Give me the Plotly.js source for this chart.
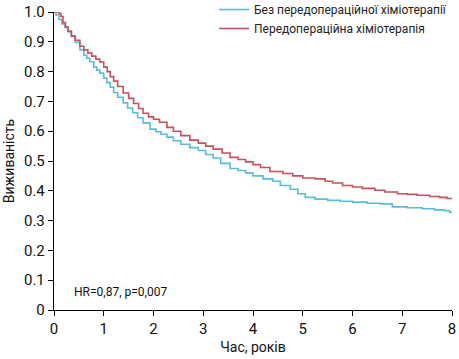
<!DOCTYPE html>
<html>
<head>
<meta charset="utf-8">
<script src="https://cdn.plot.ly/plotly-3.0.1.min.js"></script>
<style>html,body{margin:0;padding:0;background:#fff;}#chart{width:459px;height:359px;}</style>
</head>
<body>
<div id="chart"></div>
<script>
// Передопераційна хіміотерапія (red)
const redTime = [0, 0.1, 0.14, 0.18, 0.23, 0.28, 0.35, 0.42, 0.52, 0.6, 0.68, 0.76, 0.84, 0.92, 1.0, 1.07, 1.13, 1.2, 1.28, 1.39, 1.5, 1.6, 1.7, 1.79, 1.9, 2.0, 2.12, 2.27, 2.4, 2.55, 2.73, 2.9, 3.05, 3.2, 3.38, 3.54, 3.7, 3.85, 4.0, 4.15, 4.34, 4.6, 4.8, 5.0, 5.25, 5.45, 5.6, 5.8, 6.0, 6.2, 6.45, 6.65, 6.9, 7.1, 7.3, 7.55, 7.75, 7.9, 8.0];
const redSurv = [1.0, 0.995, 0.985, 0.965, 0.95, 0.935, 0.92, 0.905, 0.885, 0.873, 0.862, 0.852, 0.842, 0.832, 0.815, 0.8, 0.783, 0.768, 0.75, 0.728, 0.71, 0.693, 0.676, 0.66, 0.648, 0.64, 0.63, 0.613, 0.6, 0.585, 0.57, 0.56, 0.55, 0.54, 0.527, 0.512, 0.505, 0.497, 0.488, 0.478, 0.465, 0.458, 0.45, 0.443, 0.44, 0.432, 0.426, 0.418, 0.413, 0.408, 0.402, 0.396, 0.39, 0.388, 0.385, 0.381, 0.378, 0.374, 0.372];
// Без передопераційної хіміотерапії (blue)
const blueTime = [0, 0.04, 0.1, 0.16, 0.22, 0.28, 0.35, 0.43, 0.52, 0.6, 0.66, 0.72, 0.8, 0.86, 0.92, 1.0, 1.06, 1.13, 1.2, 1.28, 1.39, 1.48, 1.58, 1.68, 1.79, 1.93, 2.05, 2.15, 2.27, 2.4, 2.55, 2.73, 2.9, 3.05, 3.2, 3.35, 3.54, 3.7, 3.85, 4.0, 4.2, 4.4, 4.55, 4.75, 4.9, 5.05, 5.25, 5.5, 5.75, 6.0, 6.3, 6.55, 6.8, 7.1, 7.4, 7.65, 7.85, 7.95, 8.0];
const blueSurv = [1.0, 0.99, 0.975, 0.96, 0.948, 0.935, 0.918, 0.898, 0.873, 0.855, 0.845, 0.833, 0.815, 0.805, 0.795, 0.778, 0.763, 0.748, 0.73, 0.714, 0.695, 0.678, 0.662, 0.645, 0.628, 0.607, 0.598, 0.59, 0.58, 0.568, 0.556, 0.545, 0.535, 0.522, 0.51, 0.492, 0.475, 0.468, 0.46, 0.45, 0.44, 0.432, 0.418, 0.405, 0.39, 0.378, 0.372, 0.368, 0.365, 0.362, 0.358, 0.356, 0.346, 0.343, 0.34, 0.336, 0.333, 0.328, 0.326];

const seriesNames = ['Без передопераційної хіміотерапії', 'Передопераційна хіміотерапія'];
const yTickVals = [0, 0.1, 0.2, 0.3, 0.4, 0.5, 0.6, 0.7, 0.8, 0.9, 1.0];
const yTickText = ['0', '0.1', '0.2', '0.3', '0.4', '0.5', '0.6', '0.7', '0.8', '0.9', '1.0'];
const xTickVals = [0, 1, 2, 3, 4, 5, 6, 7, 8];
const annotationText = 'HR=0,87, p=0,007';

const FONT = 'Roboto, "DejaVu Sans", sans-serif';

const traces = [
  {x: blueTime, y: blueSurv, name: seriesNames[0], type: 'scatter', mode: 'lines',
   line: {color: '#5bbcd8', width: 1.6, shape: 'hv'}},
  {x: redTime, y: redSurv, name: seriesNames[1], type: 'scatter', mode: 'lines',
   line: {color: '#c8505e', width: 1.6, shape: 'hv'}}
];

const layout = {
  width: 459, height: 359,
  margin: {l: 54, r: 7, t: 12, b: 49, autoexpand: false},
  paper_bgcolor: '#fff', plot_bgcolor: '#fff',
  font: {family: FONT, size: 14, color: '#111'},
  showlegend: true,
  legend: {x: 0.402, y: 1.057, xanchor: 'left', yanchor: 'top', itemwidth: 30,
           font: {family: FONT, size: 12, color: '#222'}, bgcolor: 'rgba(0,0,0,0)',
           tracegroupgap: 0},
  xaxis: {range: [0, 8], tickvals: xTickVals, showgrid: false, zeroline: false,
          showline: true, linecolor: '#000', linewidth: 1.2,
          ticks: 'outside', ticklen: 5, tickcolor: '#000',
          tickfont: {family: FONT, size: 15, color: '#111'},
          title: {text: 'Час, років', font: {family: FONT, size: 14, color: '#111'}, standoff: 5}},
  yaxis: {range: [0, 1.0], tickvals: yTickVals, ticktext: yTickText, showgrid: false, zeroline: false,
          showline: true, linecolor: '#000', linewidth: 1.2,
          ticks: 'outside', ticklen: 5, tickcolor: '#000',
          tickfont: {family: FONT, size: 15, color: '#111'},
          title: {text: 'Виживаність', font: {family: FONT, size: 14, color: '#111'}, standoff: 6}},
  annotations: [{xref: 'x', yref: 'y', x: 0.36, y: 0.062, xanchor: 'left', yanchor: 'middle',
                 text: annotationText, showarrow: false,
                 font: {family: FONT, size: 12, color: '#111'}}]
};

Plotly.newPlot('chart', traces, layout, {displayModeBar: false, staticPlot: true});
</script>
</body>
</html>
